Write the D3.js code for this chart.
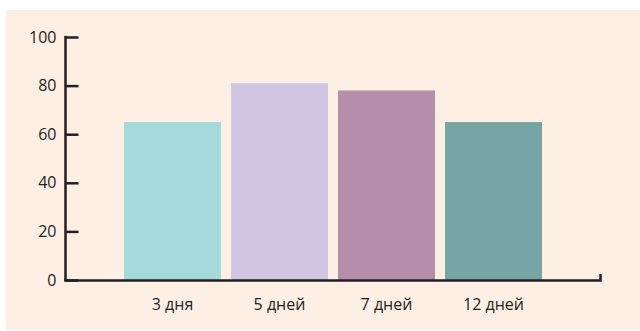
<!DOCTYPE html>
<html>
<head>
<meta charset="utf-8">
<script src="https://cdn.jsdelivr.net/npm/d3@7"></script>
<style>
  html, body { margin: 0; padding: 0; background: #ffffff; }
  svg { display: block; }
  text { font-family: "Open Sans", "Noto Sans", sans-serif; fill: #231f20; }
</style>
</head>
<body>
<svg id="chart" width="640" height="331"></svg>
<script>
const categories = ["3 дня", "5 дней", "7 дней", "12 дней"];
const values = [65, 81, 78, 65];
const barColors = ["#a5dadb", "#d1c6e1", "#b38fab", "#76a5a5"];
const yTicks = [0, 20, 40, 60, 80, 100];

const svg = d3.select("#chart");
const axisColor = "#231f20";

// background panel
svg.append("rect")
  .attr("x", 6).attr("y", 10)
  .attr("width", 634).attr("height", 320)
  .attr("fill", "#fdefe3");

const x = d3.scaleBand()
  .domain(categories)
  .range([119, 547])
  .paddingInner(10 / 107)
  .paddingOuter(5 / 107);

const y = d3.scaleLinear().domain([0, 100]).range([280, 37]);

// bars
svg.append("g").selectAll("rect")
  .data(categories)
  .join("rect")
  .attr("x", d => x(d))
  .attr("y", (d, i) => y(values[i]))
  .attr("width", x.bandwidth())
  .attr("height", (d, i) => y(0) - y(values[i]))
  .attr("fill", (d, i) => barColors[i]);

// y axis
const yAxis = d3.axisLeft(y)
  .tickValues(yTicks)
  .tickSizeInner(-13)
  .tickSizeOuter(0)
  .tickPadding(9)
  .tickFormat(d3.format("d"));

const gy = svg.append("g")
  .attr("transform", "translate(65.5,0)")
  .call(yAxis);
gy.select(".domain").remove();
gy.selectAll(".tick line").attr("stroke", axisColor).attr("stroke-width", 2.5);
gy.selectAll(".tick text").attr("font-size", 16).attr("fill", axisColor);

gy.append("path")
  .attr("d", `M0,${y(100) - 1.2}V${y(0) + 1.2}`)
  .attr("stroke", axisColor)
  .attr("stroke-width", 2.5)
  .attr("fill", "none");

// x axis
const xAxis = d3.axisBottom(x).tickSize(0).tickPadding(19);
const gx = svg.append("g")
  .attr("transform", `translate(0,${y(0)})`)
  .call(xAxis);
gx.select(".domain").remove();
gx.selectAll(".tick text").attr("font-size", 16).attr("fill", axisColor);

gx.append("path")
  .attr("d", "M64.2,0.5H600.5V-6")
  .attr("stroke", axisColor)
  .attr("stroke-width", 2.5)
  .attr("fill", "none");
</script>
</body>
</html>
